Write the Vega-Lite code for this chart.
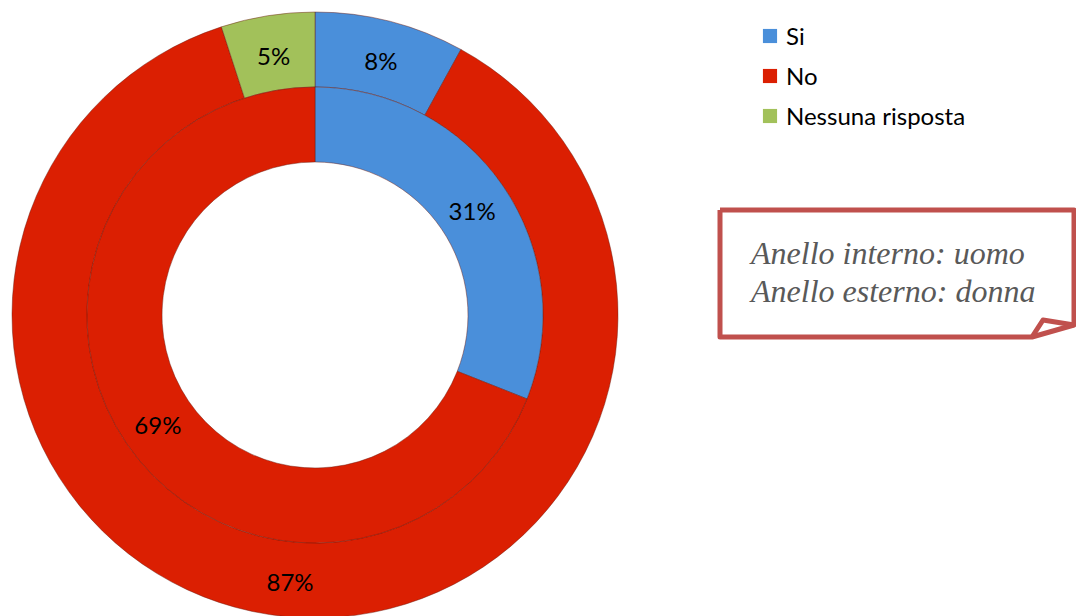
{
  "$schema": "https://vega.github.io/schema/vega-lite/v6.json",
  "width": 1076,
  "height": 616,
  "padding": 0,
  "background": "white",
  "config": {"view": {"stroke": null}, "font": "Lato"},
  "datasets": {
    "rings": [
      {"ring": "donna", "category": "Si", "value": 8, "label": "8%", "k": 1},
      {"ring": "donna", "category": "No", "value": 87, "label": "87%", "k": 2},
      {"ring": "donna", "category": "Nessuna risposta", "value": 5, "label": "5%", "k": 3},
      {"ring": "uomo", "category": "Si", "value": 31, "label": "31%", "k": 1},
      {"ring": "uomo", "category": "No", "value": 69, "label": "69%", "k": 2}
    ],
    "legendRows": [
      {"category": "Si", "lx": 770, "ly": 36},
      {"category": "No", "lx": 770, "ly": 76},
      {"category": "Nessuna risposta", "lx": 770, "ly": 116}
    ],
    "outline": [
      {"seg": "box", "i": 1, "px": 720, "py": 210},
      {"seg": "box", "i": 2, "px": 1074, "py": 210},
      {"seg": "box", "i": 3, "px": 1074, "py": 325},
      {"seg": "box", "i": 4, "px": 1032, "py": 337},
      {"seg": "box", "i": 5, "px": 720, "py": 337},
      {"seg": "box", "i": 6, "px": 720, "py": 210},
      {"seg": "fold", "i": 1, "px": 1032, "py": 337},
      {"seg": "fold", "i": 2, "px": 1043, "py": 320},
      {"seg": "fold", "i": 3, "px": 1074, "py": 325}
    ],
    "note": [
      {"t": "Anello interno: uomo", "px": 751, "py": 254},
      {"t": "Anello esterno: donna", "px": 751, "py": 292}
    ]
  },
  "layer": [
    {
      "data": {"name": "rings"},
      "transform": [{"filter": "datum.ring === 'donna'"}],
      "mark": {"type": "arc", "innerRadius": 228, "outerRadius": 303, "stroke": "#6b1a10", "strokeWidth": 1, "strokeOpacity": 0.45},
      "encoding": {
        "x": {"datum": 315, "type": "quantitative", "scale": {"domain": [0, 1076], "nice": false, "zero": false}, "axis": null},
        "y": {"datum": 315, "type": "quantitative", "scale": {"domain": [0, 616], "nice": false, "zero": false, "reverse": true}, "axis": null},
        "theta": {"field": "value", "type": "quantitative", "stack": true},
        "order": {"field": "k", "type": "quantitative"},
        "color": {
          "field": "category",
          "type": "nominal",
          "scale": {"domain": ["Si", "No", "Nessuna risposta"], "range": ["#4A8FDA", "#DB1F02", "#A2C15A"]},
          "legend": null
        }
      }
    },
    {
      "data": {"name": "rings"},
      "transform": [{"filter": "datum.ring === 'uomo'"}],
      "mark": {"type": "arc", "innerRadius": 153, "outerRadius": 228, "stroke": "#6b1a10", "strokeWidth": 1, "strokeOpacity": 0.45},
      "encoding": {
        "x": {"datum": 315, "type": "quantitative"},
        "y": {"datum": 315, "type": "quantitative"},
        "theta": {"field": "value", "type": "quantitative", "stack": true},
        "order": {"field": "k", "type": "quantitative"},
        "color": {"field": "category", "type": "nominal", "legend": null}
      }
    },
    {
      "data": {"name": "rings"},
      "transform": [{"filter": "datum.ring === 'donna'"}],
      "mark": {"type": "text", "radius": 265, "dy": 5, "fontSize": 24, "font": "Lato", "color": "#000000"},
      "encoding": {
        "x": {"datum": 315, "type": "quantitative"},
        "y": {"datum": 315, "type": "quantitative"},
        "theta": {"field": "value", "type": "quantitative", "stack": true},
        "order": {"field": "k", "type": "quantitative"},
        "text": {"field": "label"}
      }
    },
    {
      "data": {"name": "rings"},
      "transform": [{"filter": "datum.ring === 'uomo'"}],
      "mark": {"type": "text", "radius": 190, "dy": 5, "fontSize": 24, "font": "Lato", "color": "#000000"},
      "encoding": {
        "x": {"datum": 315, "type": "quantitative"},
        "y": {"datum": 315, "type": "quantitative"},
        "theta": {"field": "value", "type": "quantitative", "stack": true},
        "order": {"field": "k", "type": "quantitative"},
        "text": {"field": "label"}
      }
    },
    {
      "data": {"name": "legendRows"},
      "mark": {"type": "point", "shape": "square", "filled": true, "size": 200, "opacity": 1},
      "encoding": {
        "x": {"field": "lx", "type": "quantitative"},
        "y": {"field": "ly", "type": "quantitative"},
        "color": {"field": "category", "type": "nominal", "legend": null}
      }
    },
    {
      "data": {"name": "legendRows"},
      "mark": {"type": "text", "align": "left", "baseline": "middle", "dx": 16, "dy": 2, "fontSize": 24, "font": "Lato", "color": "#000000"},
      "encoding": {
        "x": {"field": "lx", "type": "quantitative"},
        "y": {"field": "ly", "type": "quantitative"},
        "text": {"field": "category"}
      }
    },
    {
      "data": {"name": "outline"},
      "mark": {"type": "line", "color": "#C0504D", "strokeWidth": 5, "strokeJoin": "round"},
      "encoding": {
        "x": {"field": "px", "type": "quantitative"},
        "y": {"field": "py", "type": "quantitative"},
        "detail": {"field": "seg"},
        "order": {"field": "i", "type": "quantitative"}
      }
    },
    {
      "data": {"name": "note"},
      "mark": {"type": "text", "align": "left", "baseline": "middle", "fontSize": 32, "font": "Liberation Serif", "fontStyle": "italic", "color": "#595959"},
      "encoding": {
        "x": {"field": "px", "type": "quantitative"},
        "y": {"field": "py", "type": "quantitative"},
        "text": {"field": "t"}
      }
    }
  ]
}
